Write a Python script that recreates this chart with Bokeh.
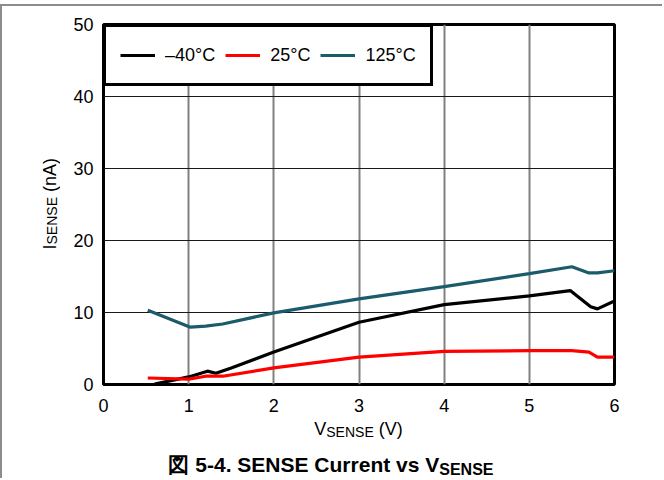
from bokeh.plotting import figure
from bokeh.models import Range1d, FixedTicker, Legend, LegendItem, Div
from bokeh.layouts import column, row
from bokeh.embed import file_html
from bokeh.resources import INLINE

# ---- data ----
v_m40 = [0.6, 1.0, 1.22, 1.32, 1.5, 2.0, 3.0, 4.0, 5.0, 5.48, 5.72, 5.8, 6.0]
i_m40 = [0.05, 1.05, 1.85, 1.57, 2.3, 4.5, 8.65, 11.1, 12.3, 13.05, 10.8, 10.5, 11.6]

v_25 = [0.52, 1.0, 1.2, 1.4, 2.0, 3.0, 4.0, 5.0, 5.5, 5.7, 5.8, 6.0]
i_25 = [0.9, 0.75, 1.15, 1.15, 2.3, 3.8, 4.6, 4.7, 4.7, 4.5, 3.8, 3.8]

v_125 = [0.52, 1.02, 1.2, 1.4, 2.0, 3.0, 4.0, 5.0, 5.5, 5.7, 5.8, 6.0]
i_125 = [10.3, 7.96, 8.1, 8.4, 9.95, 11.9, 13.6, 15.4, 16.35, 15.5, 15.5, 15.8]

series_names = ["\u201340\u00b0C", "25\u00b0C", "125\u00b0C"]
series_colors = ["#000000", "#ff0000", "#1b5b6c"]

x_ticks = [0, 1, 2, 3, 4, 5, 6]
y_ticks = [0, 10, 20, 30, 40, 50]

x_title_main, x_title_sub, x_title_unit = "V", "SENSE", " (V)"
y_title_main, y_title_sub, y_title_unit = "I", "SENSE", " (nA)"
caption_main, caption_sub = "\u56f3 5-4. SENSE Current vs V", "SENSE"

FONT = "Liberation Sans"

# ---- layout sizes (page pixels) ----
YDIV_W = 66
FIG_W, FIG_H = 596, 420
FRAME_L, FRAME_R, FRAME_T, FRAME_B = 103, 614, 24, 384
XDIV_H, CAP_H = 24, 34
TOTAL_W = YDIV_W + FIG_W

p = figure(width=FIG_W, height=FIG_H, output_backend="svg", toolbar_location=None,
           x_range=Range1d(0, 6), y_range=Range1d(0, 50),
           min_border_left=FRAME_L - YDIV_W,
           min_border_right=YDIV_W + FIG_W - FRAME_R,
           min_border_top=FRAME_T, min_border_bottom=FIG_H - FRAME_B,
           margin=0)
p.background_fill_color = "white"
p.border_fill_color = None
p.outline_line_color = "black"
p.outline_line_width = 3

p.xaxis.ticker = FixedTicker(ticks=x_ticks)
p.yaxis.ticker = FixedTicker(ticks=y_ticks)
for ax in (p.xaxis, p.yaxis):
    ax.axis_line_color = None
    ax.major_tick_line_color = None
    ax.minor_tick_line_color = None
    ax.major_tick_out = 0
    ax.major_tick_in = 0
    ax.minor_tick_out = 0
    ax.minor_tick_in = 0
    ax.axis_label_standoff = 0
    ax.major_label_text_font = FONT
    ax.major_label_text_font_size = "18px"
    ax.major_label_text_color = "black"
p.xaxis.major_label_standoff = 14
p.yaxis.major_label_standoff = 10

p.xgrid.grid_line_color = "#808080"
p.xgrid.grid_line_width = 2
p.ygrid.grid_line_color = "#1a1a1a"
p.ygrid.grid_line_width = 1

r1 = p.line(v_m40, i_m40, line_color=series_colors[0], line_width=3.2)
r2 = p.line(v_25, i_25, line_color=series_colors[1], line_width=3.2)
r3 = p.line(v_125, i_125, line_color=series_colors[2], line_width=3.2)

legend = Legend(items=[LegendItem(label=series_names[0], renderers=[r1]),
                       LegendItem(label=series_names[1], renderers=[r2]),
                       LegendItem(label=series_names[2], renderers=[r3])],
                location="top_left", orientation="horizontal")
legend.margin = 0
legend.padding = 14
legend.spacing = 10
legend.label_standoff = 10
legend.glyph_width = 35
legend.glyph_height = 24
legend.label_height = 28
legend.label_text_font = FONT
legend.label_text_font_size = "18px"
legend.label_text_color = "black"
legend.border_line_color = "black"
legend.border_line_width = 3
legend.border_line_alpha = 1.0
legend.background_fill_color = "white"
legend.background_fill_alpha = 1.0
p.add_layout(legend)

base_font = f"font-family:'{FONT}',sans-serif;color:black;"

# y-axis title (rotated, reading bottom to top)
y_center = (FRAME_T + FRAME_B) / 2
ydiv = Div(
    width=YDIV_W, height=FIG_H, margin=0,
    text=(f"<div style=\"width:{YDIV_W}px;height:{FIG_H}px;display:flex;align-items:center;"
          f"justify-content:flex-end;box-sizing:border-box;padding-right:5px;"
          f"padding-bottom:{int(FIG_H - 2 * y_center)}px;\">"
          f"<div style=\"{base_font}font-size:18px;line-height:18px;writing-mode:vertical-rl;"
          f"transform:rotate(180deg);white-space:nowrap;\">"
          f"{y_title_main}<span style=\"font-size:14px;vertical-align:-2px;\">{y_title_sub}</span>"
          f"{y_title_unit}</div></div>"),
    styles={"overflow": "visible"})

# x-axis title, centred under the frame
x_center = (FRAME_L + FRAME_R) / 2
xdiv = Div(
    width=TOTAL_W, height=XDIV_H, margin=0,
    text=(f"<div style=\"width:{TOTAL_W}px;height:{XDIV_H}px;box-sizing:border-box;"
          f"padding-left:{int(2 * x_center - TOTAL_W)}px;text-align:center;"
          f"{base_font}font-size:18px;line-height:18px;white-space:nowrap;\">"
          f"{x_title_main}<span style=\"font-size:14px;vertical-align:-2px;\">{x_title_sub}</span>"
          f"{x_title_unit}</div>"),
    styles={"overflow": "visible"})

# caption
capdiv = Div(
    width=TOTAL_W, height=CAP_H, margin=0,
    text=(f"<div style=\"width:{TOTAL_W}px;height:{CAP_H}px;box-sizing:border-box;padding-top:10px;"
          f"text-align:center;{base_font}font-weight:bold;font-size:21px;line-height:21px;"
          f"white-space:nowrap;\">"
          f"{caption_main}<span style=\"font-size:16px;vertical-align:-3px;\">{caption_sub}</span>"
          f"</div>"),
    styles={"overflow": "visible"})

grey = "#8c8c8c"
layout = column(row(ydiv, p, spacing=0, margin=0), xdiv, capdiv, spacing=0, margin=0,
                styles={"background": (f"linear-gradient({grey},{grey}) 0 4px / 100% 2px no-repeat, "
                                       f"linear-gradient({grey},{grey}) 0 4px / 2px 100% no-repeat, white")})

open("out.html", "w").write(file_html(layout, INLINE))
